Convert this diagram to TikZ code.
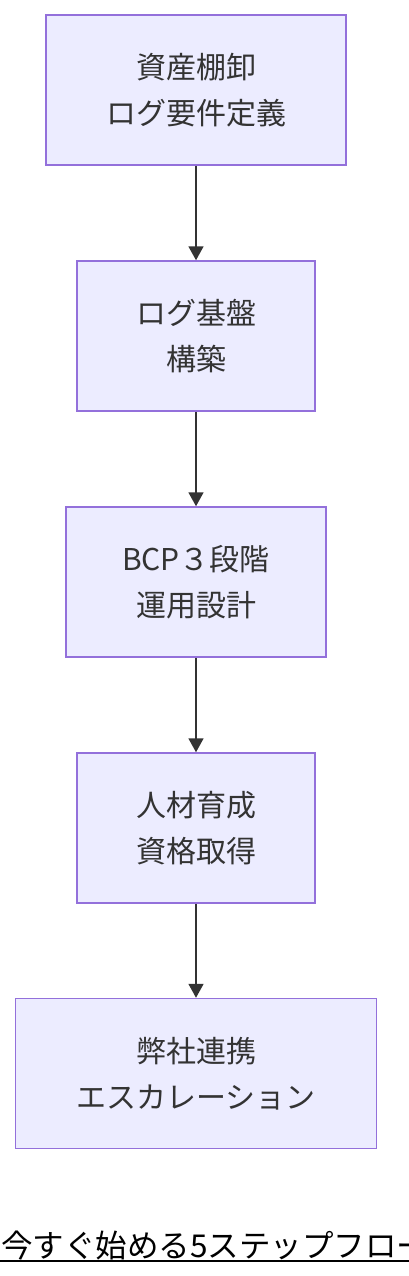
\documentclass[tikz,border=0pt]{standalone}
\usepackage{fontspec}
\setmainfont{Noto Sans CJK JP}
\usepackage{xcolor}
\usetikzlibrary{arrows.meta}
\definecolor{boxfill}{HTML}{ECECFF}
\definecolor{boxline}{HTML}{9370DB}
\definecolor{ink}{HTML}{333333}
\tikzset{
  stepbox/.style={rectangle,draw=boxline,fill=boxfill,line width=1.5pt,
    minimum height=150pt,align=center,text=ink,
    font=\fontsize{30}{46}\selectfont},
  flow/.style={draw=ink,line width=1.8pt,-{Triangle[width=15pt,length=14pt]}}
}
\begin{document}
\begin{tikzpicture}[x=1pt,y=-1pt]
\useasboundingbox (0,0) rectangle (408,1276);
\coordinate (S1) at (196,90);
\coordinate (S2) at (196,336);
\coordinate (S3) at (196,582);
\coordinate (S4) at (196,828);
\coordinate (S5) at (196,1073.5);
\node[stepbox,minimum width=300pt] (inv) at (S1){資産棚卸\\ログ要件定義};
\node[stepbox,minimum width=238pt] (base) at (S2){ログ基盤\\構築};
\node[stepbox,minimum width=260pt] (bcp) at (S3){BCP３段階\\運用設計};
\node[stepbox,minimum width=238pt] (hr) at (S4){人材育成\\資格取得};
\node[stepbox,minimum width=361pt] (esc) at (S5){弊社連携\\エスカレーション};
\draw[flow] (inv) -- (base);
\draw[flow] (base) -- (bcp);
\draw[flow] (bcp) -- (hr);
\draw[flow] (hr) -- (esc);
% title
\node[anchor=base west,inner sep=0pt,font=\fontsize{31.5}{34}\selectfont] (title) at (1,1257){今すぐ始める5ステップフロー};
\draw[line width=2pt] (0,1261) -- (title.base east |- 0,1261);
\end{tikzpicture}
\end{document}
